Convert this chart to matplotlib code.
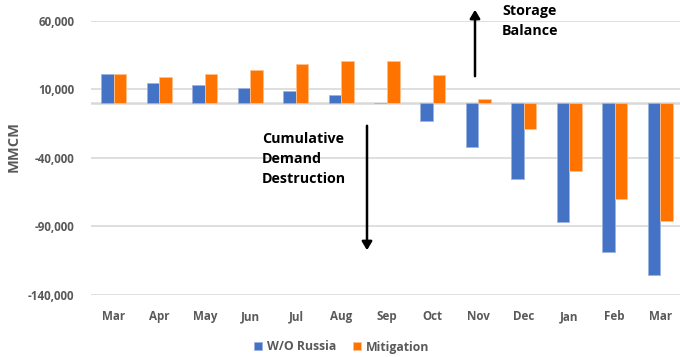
import matplotlib
matplotlib.use("Agg")
import matplotlib.pyplot as plt
import matplotlib.patches as mpatches
import numpy as np
from matplotlib.ticker import FuncFormatter

months = ["Mar", "Apr", "May", "Jun", "Jul", "Aug", "Sep", "Oct", "Nov", "Dec", "Jan", "Feb", "Mar"]
wo_russia = [21000, 14800, 13000, 11200, 8600, 5900, 400, -13000, -32300, -55600, -87000, -108500, -125400]
mitigation = [21000, 19300, 21100, 24000, 28400, 30900, 30900, 20400, 3200, -19100, -49200, -70000, -86000]
yticks = [-140000, -90000, -40000, 10000, 60000]

BLUE = "#4472C4"
ORANGE = "#FF7300"
GRAY = "#595959"

plt.rcParams["font.family"] = ["Open Sans", "DejaVu Sans"]

fig = plt.figure(figsize=(6.8, 3.57), dpi=100)
ax = fig.add_axes([91/680, 1-295/357, (683-91)/680, (295-21)/357])

x = np.arange(len(months))
w = 0.275
ax.bar(x - w/2, wo_russia, w, color=BLUE, edgecolor="#9DB4E0", linewidth=0.6, label="W/O Russia", zorder=3)
ax.bar(x + w/2, mitigation, w, color=ORANGE, edgecolor="#FFC08A", linewidth=0.6, label="Mitigation", zorder=3)

ax.set_xlim(-0.5, len(months) - 0.5)
ax.set_ylim(-140000, 60000)
ax.set_yticks(yticks)
ax.yaxis.set_major_formatter(FuncFormatter(lambda v, p: f"{int(v):,}"))
ax.grid(axis="y", color="#D9D9D9", linewidth=1.2, zorder=0)
ax.axhline(0, color="#D9D9D9", linewidth=1.8, zorder=2)
for s in ax.spines.values():
    s.set_visible(False)
ax.tick_params(axis="both", length=0, colors=GRAY, labelsize=8.4)
ax.tick_params(axis="y", pad=12)
ax.tick_params(axis="x", pad=11)
ax.set_xticks(x)
ax.set_xticklabels(months)
for lab in ax.get_xticklabels() + ax.get_yticklabels():
    lab.set_fontweight("bold")
    lab.set_color(GRAY)

fig.text(14/680, 1-146/357, "MMCM", rotation=90, ha="center", va="center",
         fontsize=10.5, fontweight="bold", color=GRAY)

leg = ax.legend(loc="center", bbox_to_anchor=(342/680, 1-347/357), bbox_transform=fig.transFigure,
                ncol=2, frameon=False, handlelength=0.6, handleheight=0.6, handletextpad=0.45,
                columnspacing=1.4, fontsize=8.8)
for t in leg.get_texts():
    t.set_fontweight("bold")
    t.set_color(GRAY)

fig.text(262/680, 1-159/357, "Cumulative\nDemand\nDestruction", ha="left", va="center",
         fontsize=10.3, fontweight="bold", color="black", linespacing=1.55)
fig.text(502/680, 1-21/357, "Storage\nBalance", ha="left", va="center",
         fontsize=10.3, fontweight="bold", color="black", linespacing=1.55)

fig.patches.append(mpatches.FancyArrowPatch(
    (367/680, 1-123/357), (367/680, 1-253/357), transform=fig.transFigure,
    arrowstyle="-|>,head_length=5,head_width=3", color="black", linewidth=1.8))
fig.patches.append(mpatches.FancyArrowPatch(
    (475/680, 1-79/357), (475/680, 1-7/357), transform=fig.transFigure,
    arrowstyle="-|>,head_length=5,head_width=3", color="black", linewidth=1.8))

fig.savefig("out.png", dpi=100)
